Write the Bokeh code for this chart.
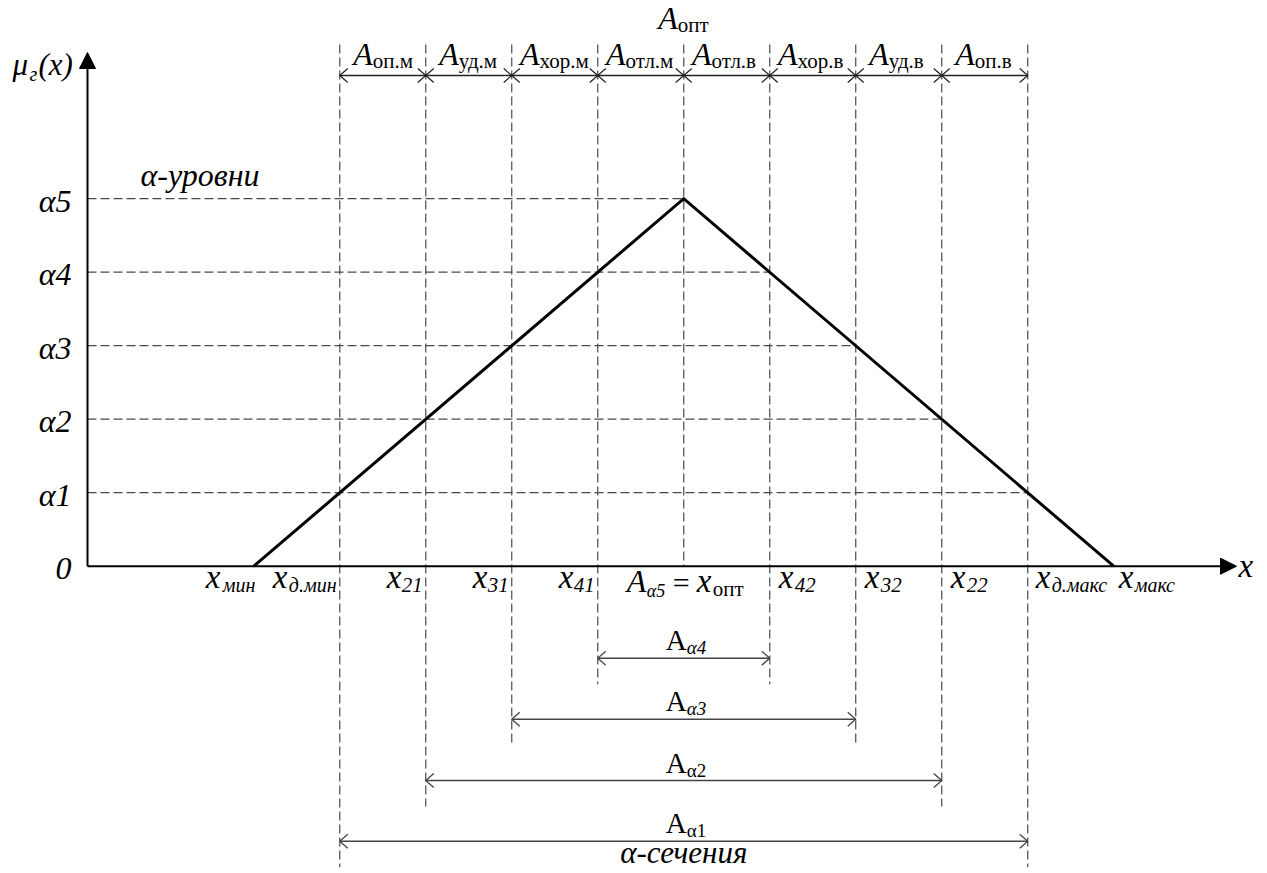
from bokeh.plotting import figure
from bokeh.models import Range1d, Arrow, NormalHead
from bokeh.core.properties import value
from bokeh.embed import file_html
from bokeh.resources import INLINE

# ---------------- data ----------------
alpha_levels = [0, 1, 2, 3, 4, 5]
alpha_labels = ["0", "α1", "α2", "α3", "α4", "α5"]
x_min, x_opt, x_max = -5.0, 0.0, 5.0      # support and peak of the fuzzy number
mu_peak = 5                               # top α-level
cut_levels = [1, 2, 3, 4]                 # α-levels with cuts
left_cut_subs = ["д.мин", "21", "31", "41"]
right_cut_subs = ["д.макс", "22", "32", "42"]
zone_subs = ["оп.м", "уд.м", "хор.м", "отл.м", "отл.в", "хор.в", "уд.в", "оп.в"]
cut_subs = ["α1", "α2", "α3", "α4"]

tri_x = [x_min, x_opt, x_max]
tri_y = [0, mu_peak, 0]

def left_cut(k):
    return x_min + (x_opt - x_min) * k / mu_peak

def right_cut(k):
    return x_max - (x_max - x_opt) * k / mu_peak

# ---------------- layout ----------------
W, H = 1267, 873
X0, X1 = -7.945, 6.788
Y0, Y1 = -4.181, 7.697
SX = W / (X1 - X0)
SY = H / (Y1 - Y0)

def dx(px):
    return px / SX

def dy(px):
    return px / SY

AXIS_X = X0 + dx(87)
X_END = X0 + dx(1236)
Y_TIP = Y1 - dy(52)
TOP_DIM = Y1 - dy(75)
V_TOP = Y1 - dy(44)
BOT_DIM = {1: Y1 - dy(840.7), 2: Y1 - dy(780),
           3: Y1 - dy(718.7), 4: Y1 - dy(657.7)}

FONT = value("Liberation Serif")
DASH_COLOR = "#4a4a4a"
BASELINE_FIX = 0.34   # renderer places the alphabetic baseline this many em lower

p = figure(width=W, height=H, x_range=Range1d(X0, X1), y_range=Range1d(Y0, Y1),
           output_backend="svg", toolbar_location=None, min_border=0)
p.axis.visible = False
p.grid.visible = False
p.outline_line_color = None
p.background_fill_color = "white"
p.border_fill_color = "white"

def txt(x, y, s, size=28, style="italic", align="left", xo=0, yo=0):
    p.text(x=[x], y=[y], text=[s], text_font=FONT, text_font_size=value(f"{size}px"),
           text_font_style=style, text_align=align, text_baseline="alphabetic",
           x_offset=xo, y_offset=yo - BASELINE_FIX * size, text_color="black")

# horizontal dashed α-level lines (axis -> right branch)
hx0, hy0, hx1, hy1 = [], [], [], []
for k in alpha_levels[1:]:
    hx0.append(AXIS_X); hy0.append(k); hx1.append(right_cut(k)); hy1.append(k)
p.segment(hx0, hy0, hx1, hy1, line_color=DASH_COLOR, line_width=1.2, line_dash="9 4")

# vertical dashed lines
vx0, vy0, vx1, vy1 = [], [], [], []
for k in cut_levels:
    for xc in (left_cut(k), right_cut(k)):
        vx0.append(xc); vy0.append(V_TOP); vx1.append(xc); vy1.append(BOT_DIM[k] - dy(26))
vx0.append(x_opt); vy0.append(V_TOP); vx1.append(x_opt); vy1.append(0)
p.segment(vx0, vy0, vx1, vy1, line_color=DASH_COLOR, line_width=1.2, line_dash="9 4")

# triangle membership function
p.line(tri_x, tri_y, line_color="black", line_width=3, line_join="miter")

# axes with arrows
p.add_layout(Arrow(x_start=AXIS_X, y_start=0, x_end=AXIS_X, y_end=Y_TIP, line_width=2,
                   end=NormalHead(size=16, fill_color="black", line_color="black")))
p.add_layout(Arrow(x_start=AXIS_X, y_start=0, x_end=X_END, y_end=0, line_width=2,
                   end=NormalHead(size=16, fill_color="black", line_color="black")))

# dimension lines with open chevrons
HL, HW = dx(8), dy(7)

def chevron(xt, y, direction):
    # direction -1: points left ("<"), +1: points right (">")
    return [xt - direction * HL, xt, xt - direction * HL], [y + HW, y, y - HW]

bounds = sorted([left_cut(k) for k in cut_levels] + [x_opt] + [right_cut(k) for k in cut_levels])
cx, cy = [], []
for i, b in enumerate(bounds):
    if i > 0:
        a, c = chevron(b, TOP_DIM, 1); cx.append(a); cy.append(c)
    if i < len(bounds) - 1:
        a, c = chevron(b, TOP_DIM, -1); cx.append(a); cy.append(c)
p.segment([bounds[0]], [TOP_DIM], [bounds[-1]], [TOP_DIM], line_color="#222222", line_width=1.3)
p.multi_line(cx, cy, line_color="#222222", line_width=1.2)

bx, by = [], []
for k in cut_levels:
    yk = BOT_DIM[k]
    p.segment([left_cut(k)], [yk], [right_cut(k)], [yk], line_color="#444444", line_width=1.5)
    a, c = chevron(left_cut(k), yk, -1); bx.append(a); by.append(c)
    a, c = chevron(right_cut(k), yk, 1); bx.append(a); by.append(c)
p.multi_line(bx, by, line_color="#444444", line_width=1.3)

# ---------------- texts ----------------
# y labels
for k, lab in zip(alpha_levels, alpha_labels):
    txt(AXIS_X, k, lab, size=32, align="right", xo=-16, yo=13)

# axis titles
txt(AXIS_X, Y_TIP, "μ", size=31, xo=-75, yo=23)
txt(AXIS_X, Y_TIP, "г", size=20, xo=-58, yo=28)
txt(AXIS_X, Y_TIP, "(x)", size=31, xo=-49, yo=23)
txt(X_END, 0, "x", size=33, xo=2, yo=11)
txt(AXIS_X, mu_peak, "α-уровни", size=32, xo=53, yo=-13)
txt(x_opt, BOT_DIM[1], "α-сечения", size=31, align="center", yo=22)

# top zone labels
for i, sub in enumerate(zone_subs):
    c = 0.5 * (bounds[i] + bounds[i + 1])
    split = (20 - 10.5 * len(sub)) / 2
    txt(c, TOP_DIM, "A", size=32, align="right", xo=split + 1, yo=-11)
    txt(c, TOP_DIM, sub, size=21, style="normal", xo=split + 1, yo=-7)
txt(x_opt, TOP_DIM, "A", size=32, align="right", xo=-6, yo=-47)
txt(x_opt, TOP_DIM, "опт", size=21, style="normal", xo=-6, yo=-43)

# x-axis cut labels: (x start offset, subscript start offset) in px
left_off = {"д.мин": (-67, -51), "21": (-39, -24), "31": (-39, -24), "41": (-39, -24)}
right_off = {"д.макс": (8, 24), "22": (9, 25), "32": (9, 25), "42": (9, 25)}
for k, sub in zip(cut_levels, left_cut_subs):
    xs, ss = left_off[sub]
    txt(left_cut(k), 0, "x", size=33, xo=xs, yo=22)
    txt(left_cut(k), 0, sub, size=21 if sub.isdigit() else 20, xo=ss, yo=26)
for k, sub in zip(cut_levels, right_cut_subs):
    xs, ss = right_off[sub]
    txt(right_cut(k), 0, "x", size=33, xo=xs, yo=22)
    txt(right_cut(k), 0, sub, size=21 if sub.isdigit() else 20, xo=ss, yo=26)
txt(x_min, 0, "x", size=33, xo=-48, yo=22)
txt(x_min, 0, "мин", size=20, xo=-31, yo=26)
txt(x_max, 0, "x", size=33, xo=5, yo=22)
txt(x_max, 0, "макс", size=20, xo=21, yo=26)

# A_α5 = x_опт
txt(x_opt, 0, "A", size=32, xo=-57, yo=26)
txt(x_opt, 0, "α5", size=18, xo=-37, yo=31)
txt(x_opt, 0, "=", size=30, style="normal", xo=-11, yo=26)
txt(x_opt, 0, "x", size=33, xo=13, yo=26)
txt(x_opt, 0, "опт", size=21, style="normal", xo=29, yo=30)

# α-cut labels
for k, sub in zip(cut_levels, cut_subs):
    st = "italic" if k >= 3 else "normal"
    txt(x_opt, BOT_DIM[k], "A", size=29, style="normal", align="right", xo=3, yo=-8)
    txt(x_opt, BOT_DIM[k], sub, size=19, style=st, xo=3, yo=-4)

open("out.html", "w").write(file_html(p, INLINE))
